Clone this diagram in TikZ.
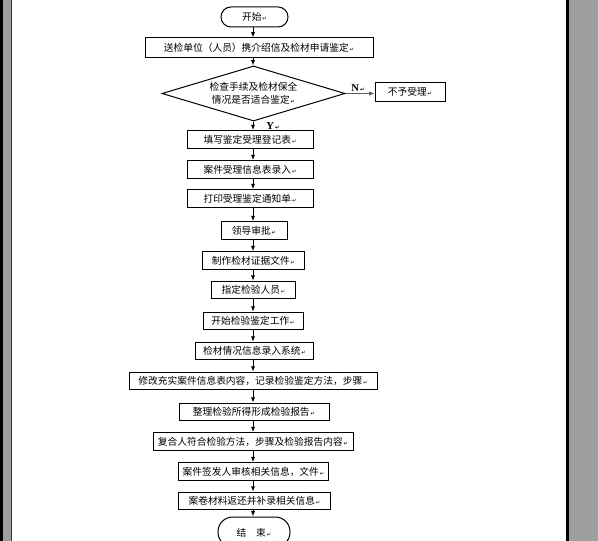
\documentclass[tikz,border=0pt]{standalone}
\usepackage{fontspec}
\newfontfamily\cjk{Noto Sans CJK SC}
\newfontfamily\dejavu{DejaVu Sans}
\setmainfont{Liberation Serif}
\usetikzlibrary{shapes.geometric,arrows.meta}
\newcommand{\parmark}{{\dejavu\fontsize{4}{4}\selectfont\,↵}}
\tikzset{
  box/.style={draw, line width=0.75pt, rectangle, inner sep=0pt, minimum height=13.3pt,
    font=\cjk\fontsize{7.3}{9}\selectfont, align=center},
  term/.style={box, rounded corners=7.5pt, minimum height=15pt},
  decision/.style={draw, line width=0.75pt, diamond, inner sep=0pt, aspect=3.3,
    minimum width=137.3pt, minimum height=41.3pt, font=\cjk\fontsize{7.3}{10}\selectfont, align=center},
  arr/.style={line width=0.75pt, -{Latex[length=4pt,width=3.2pt]}},
  lbl/.style={font=\fontsize{8}{9}\selectfont\bfseries, inner sep=0pt}
}
\begin{document}
\begin{tikzpicture}[x=0.75pt,y=-0.75pt]
\useasboundingbox (0,0) rectangle (598,541);
\clip (0,0) rectangle (598,541);
% side strips
\fill[black] (0,0) rectangle (3,541);
\fill[gray!75] (3,0) rectangle (11,541);
\fill[black!80] (11,0) rectangle (12,541);
\fill[black] (566,0) rectangle (569,541);
\fill[gray!75] (569,0) rectangle (598,541);

\coordinate (axis) at (253,0);

\node[term, minimum width=50.3pt] (start) at (254.5,17) {开始\parmark};
\node[box, minimum width=171pt, minimum height=14.3pt] (b2) at (259,47.5) {送检单位（人员）携介绍信及检材申请鉴定\parmark};
\node[decision] (d) at (253.5,93.5) {检查手续及检材保全\\情况是否适合鉴定\parmark};
\node[box, minimum width=52.5pt, minimum height=14.3pt] (no) at (410,92) {不予受理\parmark};
\node[box, minimum width=94.5pt] (b3) at (250,139.5) {填写鉴定受理登记表\parmark};
\node[box, minimum width=94.5pt] (b4) at (250,169.5) {案件受理信息表录入\parmark};
\node[box, minimum width=94.5pt] (b5) at (250,198.5) {打印受理鉴定通知单\parmark};
\node[box, minimum width=49.5pt] (b6) at (254,230.5) {领导审批\parmark};
\node[box, minimum width=75.8pt] (b7) at (253.5,260.5) {制作检材证据文件\parmark};
\node[box, minimum width=62.3pt] (b8) at (253.5,290) {指定检验人员\parmark};
\node[box, minimum width=75pt] (b9) at (253,321) {开始检验鉴定工作\parmark};
\node[box, minimum width=87.8pt] (b10) at (254.5,351) {检材情况信息录入系统\parmark};
\node[box, minimum width=186pt] (b11) at (253,381) {修改充实案件信息表内容，记录检验鉴定方法，步骤\parmark};
\node[box, minimum width=112.5pt] (b12) at (254,412) {整理检验所得形成检验报告\parmark};
\node[box, minimum width=150pt] (b13) at (253,441.5) {复合人符合检验方法，步骤及检验报告内容\parmark};
\node[box, minimum width=111.8pt] (b14) at (253.5,471.5) {案件签发人审核相关信息，文件\parmark};
\node[box, minimum width=113.3pt] (b15) at (254.5,501) {案卷材料返还并补录相关信息\parmark};
\node[term, minimum width=54pt, minimum height=22.5pt, rounded corners=11pt, text depth=-6pt] (end) at (254,532) {结\hspace{1em}束\parmark};

\node[lbl] (nlab) at (358,88) {N\parmark};
\node[lbl] (ylab) at (273,126) {Y\parmark};

\draw[arr] (start.south -| axis) -- (b2.north -| axis);
\draw[arr] (b2.south -| axis) -- (d.north -| axis);
\draw[arr] (d.south -| axis) -- (b3.north -| axis);
\draw[arr, draw=black!65, line width=1.3pt] (d.east) -- (d.east -| no.west);
\draw[arr] (b3.south -| axis) -- (b4.north -| axis);
\draw[arr] (b4.south -| axis) -- (b5.north -| axis);
\draw[arr] (b5.south -| axis) -- (b6.north -| axis);
\draw[arr] (b6.south -| axis) -- (b7.north -| axis);
\draw[arr] (b7.south -| axis) -- (b8.north -| axis);
\draw[arr] (b8.south -| axis) -- (b9.north -| axis);
\draw[arr] (b9.south -| axis) -- (b10.north -| axis);
\draw[arr] (b10.south -| axis) -- (b11.north -| axis);
\draw[arr] (b11.south -| axis) -- (b12.north -| axis);
\draw[arr] (b12.south -| axis) -- (b13.north -| axis);
\draw[arr] (b13.south -| axis) -- (b14.north -| axis);
\draw[arr] (b14.south -| axis) -- (b15.north -| axis);
\draw[arr] (b15.south -| axis) -- (end.north -| axis);
\end{tikzpicture}
\end{document}
